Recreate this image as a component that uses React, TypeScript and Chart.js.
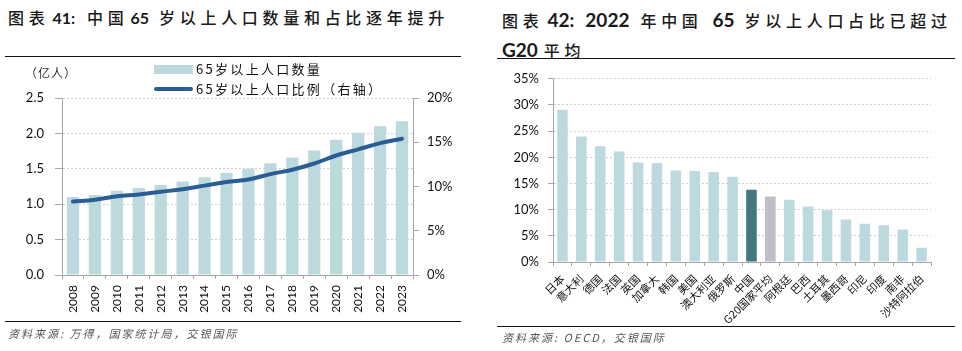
import React, { useEffect, useRef } from 'react';
import { Chart, registerables } from 'chart.js';

Chart.register(...registerables);

// ---------- Data ----------
const years = ['2008', '2009', '2010', '2011', '2012', '2013', '2014', '2015', '2016', '2017', '2018', '2019', '2020', '2021', '2022', '2023'];
const elderlyPopulation = [1.10, 1.13, 1.19, 1.23, 1.27, 1.32, 1.38, 1.44, 1.50, 1.58, 1.66, 1.76, 1.91, 2.01, 2.10, 2.17];
const elderlyRatio = [8.3, 8.5, 8.9, 9.1, 9.4, 9.7, 10.1, 10.5, 10.8, 11.4, 11.9, 12.6, 13.5, 14.2, 14.9, 15.4];

const countries = ['日本', '意大利', '德国', '法国', '英国', '加拿大', '韩国', '美国', '澳大利亚', '俄罗斯', '中国', 'G20国家平均', '阿根廷', '巴西', '土耳其', '墨西哥', '印尼', '印度', '南非', '沙特阿拉伯'];
const elderlyShare = [29.1, 24.0, 22.1, 21.1, 19.0, 18.9, 17.5, 17.4, 17.2, 16.3, 13.8, 12.5, 11.9, 10.6, 9.9, 8.1, 7.3, 7.0, 6.2, 2.7];

const legendBarLabel = '65岁以上人口数量';
const legendLineLabel = '65岁以上人口比例（右轴）';

// ---------- Styles ----------
const BAR = '#BCD9DD';
const CHINA = '#44787F';
const G20 = '#C3BDC9';
const LINE = '#2A5C95';
const AXIS = '#A6A6A6';
const GRID = '#CFCFCF';
const NUM_FONT = 'Lato, "Open Sans", sans-serif';
const CJK_FONT = '"Noto Sans CJK SC", sans-serif';

function LeftChart() {
  const ref = useRef<HTMLCanvasElement>(null);
  useEffect(() => {
    const chart = new Chart(ref.current as HTMLCanvasElement, {
      type: 'bar',
      data: {
        labels: years,
        datasets: [
          {
            type: 'line',
            label: legendLineLabel,
            data: elderlyRatio,
            yAxisID: 'y1',
            borderColor: LINE,
            backgroundColor: LINE,
            borderWidth: 4,
            pointRadius: 0,
            tension: 0.4,
            borderCapStyle: 'round',
            order: 0,
          } as any,
          {
            type: 'bar',
            label: legendBarLabel,
            data: elderlyPopulation,
            yAxisID: 'y',
            backgroundColor: BAR,
            categoryPercentage: 1,
            barPercentage: 0.56,
            order: 1,
          } as any,
        ],
      },
      options: {
        animation: false,
        responsive: false,
        maintainAspectRatio: false,
        layout: { padding: { top: 38, left: 0, right: 0, bottom: 0 } },
        plugins: { legend: { display: false }, tooltip: { enabled: false } },
        scales: {
          x: {
            grid: { drawOnChartArea: false, tickLength: 4, color: AXIS, offset: true },
            border: { color: AXIS },
            ticks: {
              minRotation: 90,
              maxRotation: 90,
              autoSkip: false,
              padding: 6,
              color: '#111',
              font: { family: NUM_FONT, size: 12 },
            },
            afterFit: (s: any) => { s.height = 47; },
          },
          y: {
            position: 'left',
            min: 0,
            max: 2.5,
            ticks: {
              stepSize: 0.5,
              padding: 11,
              color: '#111',
              font: { family: NUM_FONT, size: 13 },
              callback: (v: any) => Number(v).toFixed(1),
            },
            grid: { color: GRID, tickLength: 7, tickColor: AXIS },
            border: { color: AXIS, dash: [2, 2] },
            afterFit: (s: any) => { s.width = 62; },
          },
          y1: {
            position: 'right',
            min: 0,
            max: 20,
            ticks: {
              stepSize: 5,
              padding: 8,
              color: '#111',
              font: { family: NUM_FONT, size: 13 },
              callback: (v: any) => v + '%',
            },
            grid: { drawOnChartArea: false, tickLength: 6, color: AXIS },
            border: { color: AXIS },
            afterFit: (s: any) => { s.width = 57; },
          },
        },
      } as any,
    });
    return () => chart.destroy();
  }, []);
  return (
    <canvas
      ref={ref}
      width={470}
      height={262}
      style={{ position: 'absolute', left: 0, top: 60, width: 470, height: 262 }}
    />
  );
}

function RightChart() {
  const ref = useRef<HTMLCanvasElement>(null);
  useEffect(() => {
    const colors = countries.map((c) => (c === '中国' ? CHINA : c === 'G20国家平均' ? G20 : BAR));
    const chart = new Chart(ref.current as HTMLCanvasElement, {
      type: 'bar',
      data: {
        labels: countries,
        datasets: [
          {
            label: '65岁以上人口占比',
            data: elderlyShare,
            backgroundColor: colors,
            categoryPercentage: 1,
            barPercentage: 0.56,
          },
        ],
      },
      options: {
        animation: false,
        responsive: false,
        maintainAspectRatio: false,
        layout: { padding: { top: 14, left: 0, right: 31, bottom: 0 } },
        plugins: { legend: { display: false }, tooltip: { enabled: false } },
        scales: {
          x: {
            grid: { drawOnChartArea: false, tickLength: 4, color: AXIS, offset: true },
            border: { color: AXIS },
            ticks: {
              minRotation: 45,
              maxRotation: 45,
              autoSkip: false,
              padding: 6,
              color: '#111',
              font: { family: CJK_FONT, size: 11 },
            },
            afterFit: (s: any) => { s.height = 64; },
          },
          y: {
            min: 0,
            max: 35,
            ticks: {
              stepSize: 5,
              padding: 9,
              color: '#111',
              font: { family: NUM_FONT, size: 13 },
              callback: (v: any) => v + '%',
            },
            grid: { color: GRID, tickLength: 5, tickColor: AXIS },
            border: { color: AXIS, dash: [2, 2] },
            afterFit: (s: any) => { s.width = 73; },
          },
        },
      } as any,
    });
    return () => chart.destroy();
  }, []);
  return (
    <canvas
      ref={ref}
      width={482}
      height={264}
      style={{ position: 'absolute', left: 480, top: 62, width: 482, height: 264 }}
    />
  );
}

const cj: React.CSSProperties = { fontFamily: CJK_FONT, letterSpacing: '4.7px', fontWeight: 500 };
const nb: React.CSSProperties = { fontFamily: NUM_FONT, fontWeight: 700, letterSpacing: '0px' };
const nbBig: React.CSSProperties = { ...nb, fontSize: 19 };
const rule = (left: number, top: number, width: number): React.CSSProperties => ({
  position: 'absolute', left, top, width, height: 0, borderTop: '1.5px solid #111',
});
const src: React.CSSProperties = {
  position: 'absolute', fontFamily: CJK_FONT, fontStyle: 'italic', fontSize: 11,
  color: '#555', letterSpacing: '2px', whiteSpace: 'pre', lineHeight: '14px',
};
const gap = (w: number): React.CSSProperties => ({ display: 'inline-block', width: w });

export default function App() {
  return (
    <div style={{ position: 'absolute', left: 0, top: 0, width: 962, height: 351, background: '#fff', overflow: 'hidden', color: '#1a1a1a' }}>
      {/* Left panel */}
      <div style={{ position: 'absolute', left: 8, top: 6, fontSize: 16, lineHeight: '22px', whiteSpace: 'pre' }}>
        <span style={cj}>图表</span><span style={gap(3)} /><span style={nb}>41:</span><span style={gap(12)} /><span style={cj}>中国</span><span style={gap(2)} /><span style={nb}>65</span><span style={gap(10)} /><span style={cj}>岁以上人口数量和占比逐年提升</span>
      </div>
      <div style={rule(5, 56, 456)} />
      <LeftChart />
      <div style={{ position: 'absolute', left: 25, top: 65, fontFamily: CJK_FONT, fontSize: 12, color: '#333', letterSpacing: '1px', lineHeight: '16px' }}>（亿人）</div>
      <div style={{ position: 'absolute', left: 154, top: 65, width: 39, height: 9, background: BAR }} />
      <div style={{ position: 'absolute', left: 196, top: 60, fontFamily: CJK_FONT, fontSize: 13, lineHeight: '18px', letterSpacing: '2.3px', color: '#111' }}>{legendBarLabel}</div>
      <div style={{ position: 'absolute', left: 154, top: 87, width: 39, height: 4, background: LINE, borderRadius: 2 }} />
      <div style={{ position: 'absolute', left: 196, top: 80, fontFamily: CJK_FONT, fontSize: 13, lineHeight: '18px', letterSpacing: '2.3px', color: '#111' }}>{legendLineLabel}</div>
      <div style={rule(5, 321, 456)} />
      <div style={{ ...src, left: 8, top: 326 }}>资料来源: 万得，国家统计局，交银国际</div>

      {/* Right panel */}
      <div style={{ position: 'absolute', left: 502, top: 6, fontSize: 16, lineHeight: '28px', whiteSpace: 'pre' }}>
        <div>
          <span style={cj}>图表</span><span style={gap(4)} /><span style={nbBig}>42:</span><span style={gap(11)} /><span style={nbBig}>2022</span><span style={gap(11)} /><span style={cj}>年中国</span><span style={gap(10)} /><span style={nbBig}>65</span><span style={gap(10)} /><span style={cj}>岁以上人口占比已超过</span>
        </div>
        <div>
          <span style={nbBig}>G20</span><span style={gap(6)} /><span style={cj}>平均</span>
        </div>
      </div>
      <div style={rule(497, 58, 458)} />
      <RightChart />
      <div style={rule(497, 326, 458)} />
      <div style={{ ...src, left: 502, top: 330 }}>资料来源: OECD，交银国际</div>
    </div>
  );
}
